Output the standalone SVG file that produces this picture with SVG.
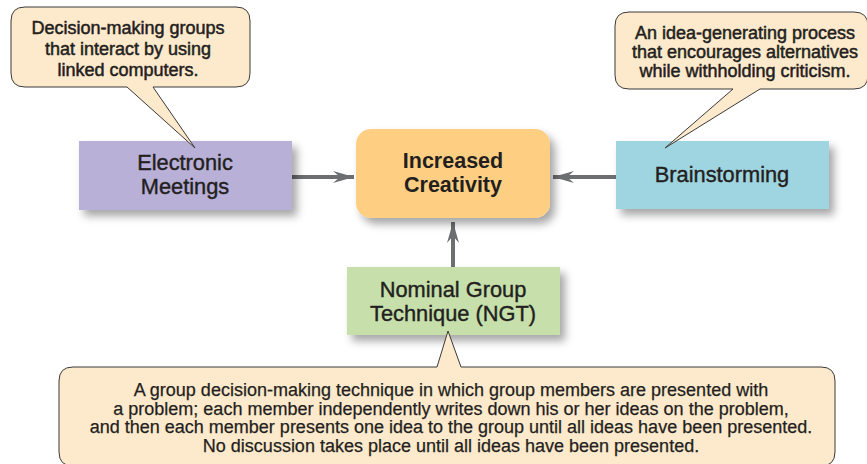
<svg xmlns="http://www.w3.org/2000/svg" width="867" height="464" viewBox="0 0 867 464">
<defs>
<filter id="sh" x="-20%" y="-20%" width="150%" height="160%">
<feDropShadow dx="5" dy="6" stdDeviation="4" flood-color="#000" flood-opacity="0.35"/>
</filter>
<marker id="ah" viewBox="0 0 22 14" refX="21" refY="7" markerUnits="userSpaceOnUse" markerWidth="22" markerHeight="14" orient="auto">
<path d="M0,1 L21,7 L0,13 L7,7 Z" fill="#6d6e71"/>
</marker>
<style>
.t{font-family:"Liberation Sans",Arial,sans-serif;fill:#231f20;text-anchor:middle}
.c{font-size:18px;stroke:#231f20;stroke-width:0.5}
.n{font-size:21.8px;stroke:#231f20;stroke-width:0.4}
.b{font-size:21.5px;font-weight:bold}
.d{font-size:18px;stroke:#231f20;stroke-width:0.25}
.call{fill:#fde9cc;stroke:#3a3a3a;stroke-width:1}
.con{stroke:#6d6e71;stroke-width:4;fill:none}
</style>
</defs>
<rect width="867" height="464" fill="#fff"/>
<g id="connectors">
<line class="con" x1="292" y1="177" x2="354" y2="177" marker-end="url(#ah)"/>
<line class="con" x1="616" y1="177" x2="553" y2="177" marker-end="url(#ah)"/>
<line class="con" x1="453" y1="267" x2="453" y2="222" marker-end="url(#ah)"/>
</g>
<g id="electronic-meetings">
<rect x="79" y="141" width="213" height="69" fill="#b9b0d7" filter="url(#sh)"/>
<text class="t n" x="185" y="170">Electronic</text>
<text class="t n" x="185" y="194">Meetings</text>
</g>
<g id="increased-creativity">
<rect x="356" y="129" width="194" height="89" rx="15" fill="#fecf83" filter="url(#sh)"/>
<text class="t b" x="453" y="168">Increased</text>
<text class="t b" x="453" y="192">Creativity</text>
</g>
<g id="brainstorming">
<rect x="616" y="141" width="213" height="68" fill="#9fd4e1" filter="url(#sh)"/>
<text class="t n" x="722" y="182">Brainstorming</text>
</g>
<g id="ngt">
<rect x="347" y="267" width="213" height="68" fill="#c6dfab" filter="url(#sh)"/>
<text class="t n" x="453" y="297">Nominal Group</text>
<text class="t n" x="453" y="321">Technique (NGT)</text>
</g>
<g id="callout-electronic">
<path class="call" d="M25,7 H236 Q250,7 250,21 V73 Q250,87 236,87 H153 L195,148 L127,87 H25 Q11,87 11,73 V21 Q11,7 25,7 Z"/>
<text class="t c" x="128" y="34">Decision-making groups</text>
<text class="t c" x="128" y="55">that interact by using</text>
<text class="t c" x="128" y="76">linked computers.</text>
</g>
<g id="callout-brainstorming">
<path class="call" d="M629,12 H854 Q868,12 868,26 V75 Q868,89 854,89 H760 L665,148 L733,89 H629 Q615,89 615,75 V26 Q615,12 629,12 Z"/>
<text class="t c" x="745" y="39">An idea-generating process</text>
<text class="t c" x="745" y="58">that encourages alternatives</text>
<text class="t c" x="745" y="77">while withholding criticism.</text>
</g>
<g id="callout-ngt">
<path class="call" d="M73,367 H437 L448,331 L461,367 H821 Q835,367 835,381 V452 Q835,466 821,466 H73 Q59,466 59,452 V381 Q59,367 73,367 Z"/>
<text class="t d" x="451" y="396">A group decision-making technique in which group members are presented with</text>
<text class="t d" x="451" y="414.5">a problem; each member independently writes down his or her ideas on the problem,</text>
<text class="t d" x="451" y="433">and then each member presents one idea to the group until all ideas have been presented.</text>
<text class="t d" x="451" y="451.5">No discussion takes place until all ideas have been presented.</text>
</g>
</svg>
